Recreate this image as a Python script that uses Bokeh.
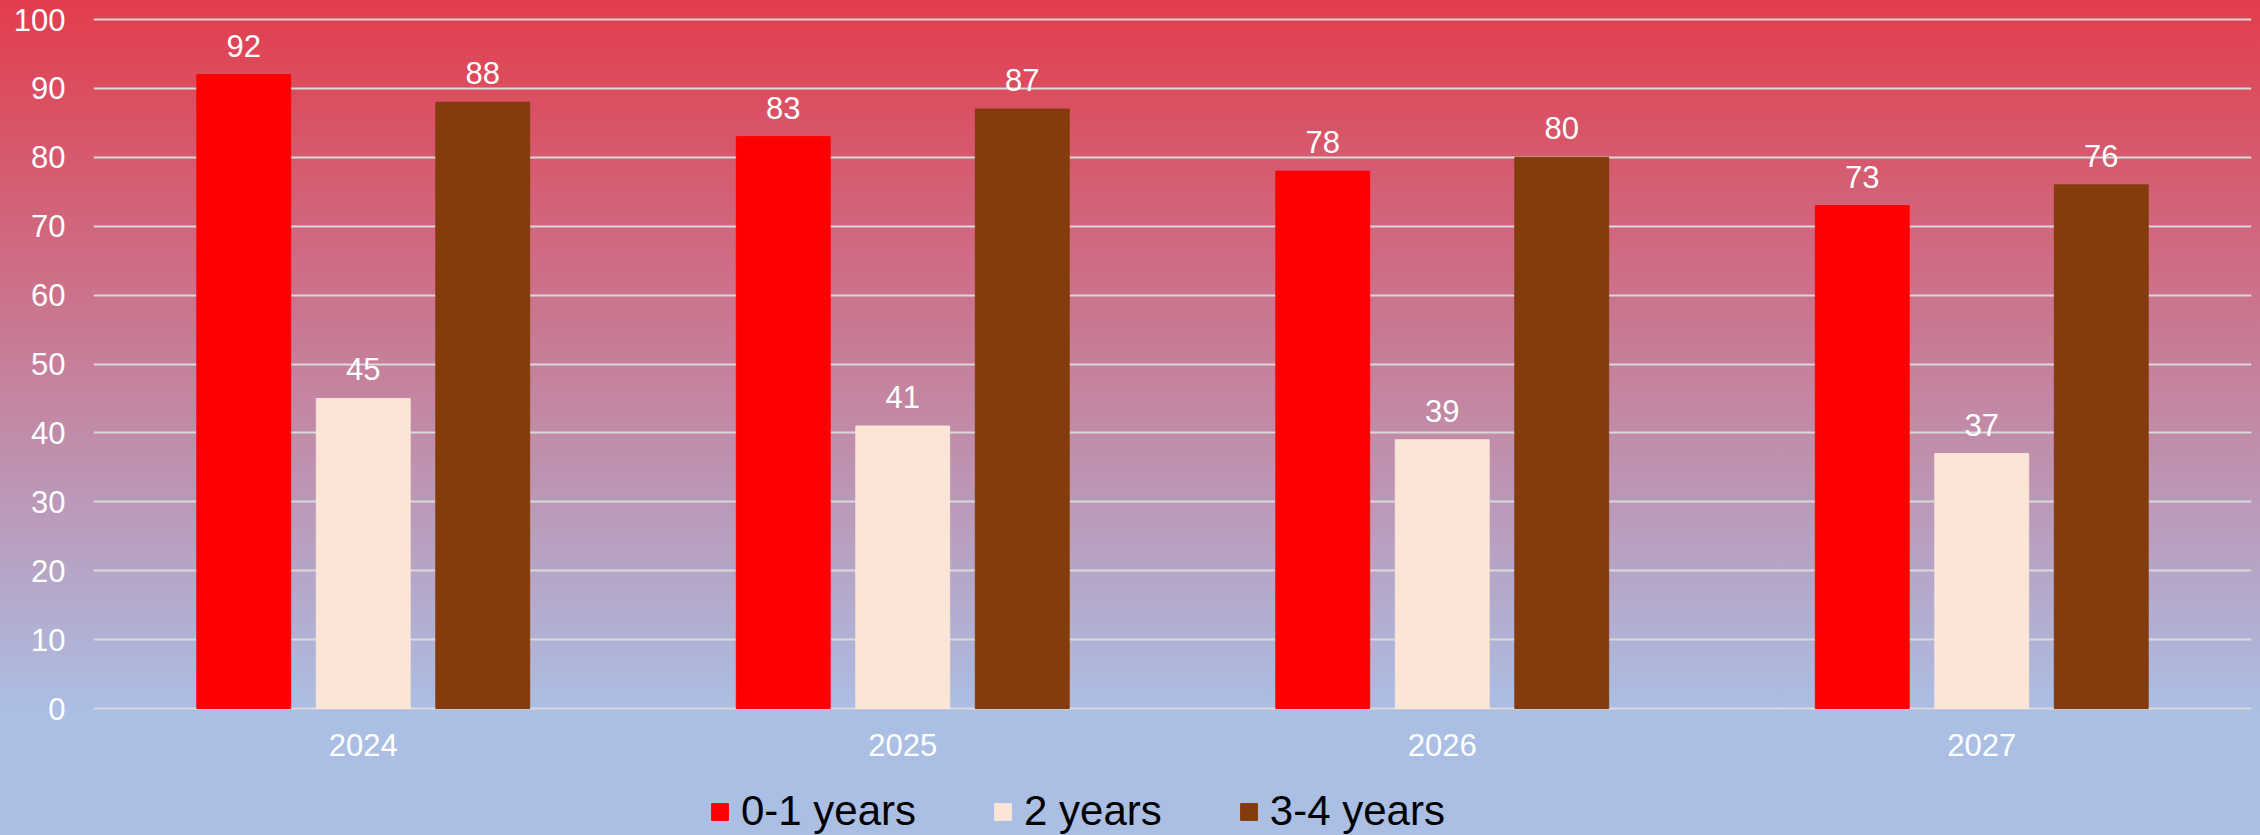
from bokeh.plotting import figure
from bokeh.models import ColumnDataSource, FactorRange, Range1d, LabelSet, Legend, LegendItem, FixedTicker
from bokeh.transform import dodge
from bokeh.core.properties import value
from bokeh.embed import file_html
from bokeh.resources import INLINE

years = ["2024", "2025", "2026", "2027"]
series_names = ["0-1 years", "2 years", "3-4 years"]
v01 = [92, 83, 78, 73]
v2 = [45, 41, 39, 37]
v34 = [88, 87, 80, 76]
colors = ["#FF0000", "#FBE5D6", "#843C0C"]
y_ticks = [0, 10, 20, 30, 40, 50, 60, 70, 80, 90, 100]

FONT = "Liberation Sans"

W, H = 2260, 835
LEFT, RIGHT = 93, 9
TOP_LINE = 19     # px from top of figure to the 100 line
ZERO_Y = 708      # px from top of figure to the 0 line
PAD_TOP = 4       # frame starts a little above the 100 line so it is drawn
px_per_unit = (ZERO_Y - TOP_LINE) / 100.0
y_bottom = -(H - ZERO_Y) / px_per_unit
y_top = 100 + PAD_TOP / px_per_unit

src = ColumnDataSource(dict(
    year=years,
    s0=v01, s1=v2, s2=v34,
    l0=[str(v) for v in v01], l1=[str(v) for v in v2], l2=[str(v) for v in v34],
))

p = figure(
    x_range=FactorRange(*years), y_range=Range1d(y_bottom, y_top),
    width=W, height=H,
    output_backend="svg", toolbar_location=None,
    min_border_left=LEFT, min_border_right=RIGHT, min_border_top=TOP_LINE - PAD_TOP,
    min_border_bottom=0,
)
p.background_fill_alpha = 0
p.border_fill_alpha = 0
p.outline_line_alpha = 0
p.styles = {"background": "linear-gradient(to bottom, #E23D4C 0%, #ABBFE5 85.5%, #ABBFE5 100%)"}

offsets = [-0.2215, 0.0, 0.2215]
keys = ["s0", "s1", "s2"]
lkeys = ["l0", "l1", "l2"]
renderers = []
for off, k, lk, c in zip(offsets, keys, lkeys, colors):
    r = p.vbar(x=dodge("year", off, range=p.x_range), top=k, bottom=0, width=0.174,
               source=src, fill_color=c, line_color=c, line_width=1)
    renderers.append(r)
    labels = LabelSet(x=dodge("year", off, range=p.x_range), y=k, text=lk, source=src,
                      text_align="center", text_baseline="alphabetic", y_offset=18,
                      text_color="white", text_font=value(FONT), text_font_size="31px")
    p.add_layout(labels)

# grid
p.xgrid.grid_line_color = None
p.ygrid.ticker = FixedTicker(ticks=y_ticks)
p.ygrid.grid_line_color = "#D9D9D9"
p.ygrid.grid_line_width = 2

# y axis
p.yaxis.ticker = FixedTicker(ticks=y_ticks)
p.yaxis.axis_line_color = None
p.yaxis.major_tick_line_color = None
p.yaxis.minor_tick_line_color = None
p.yaxis.major_tick_out = 0
p.yaxis.major_tick_in = 0
p.yaxis.major_label_standoff = 28
p.yaxis.major_label_text_color = "white"
p.yaxis.major_label_text_font = FONT
p.yaxis.major_label_text_font_size = "31px"

# x axis, pinned at the zero line
p.xaxis.fixed_location = 0
p.xaxis.axis_line_color = None
p.xaxis.major_tick_line_color = None
p.xaxis.minor_tick_line_color = None
p.xaxis.major_tick_out = 0
p.xaxis.major_tick_in = 0
p.xaxis.major_label_standoff = 25
p.xaxis.major_label_text_color = "white"
p.xaxis.major_label_text_font = FONT
p.xaxis.major_label_text_font_size = "31px"

legend = Legend(
    items=[LegendItem(label=n, renderers=[r]) for n, r in zip(series_names, renderers)],
    orientation="horizontal",
    location=(616, 0),
    glyph_width=21, glyph_height=21,
    label_standoff=11, spacing=76,
    padding=0, margin=0,
    label_text_font=FONT, label_text_font_size="42px", label_text_color="black",
    background_fill_alpha=0, border_line_alpha=0,
)
p.add_layout(legend, "center")

open("out.html", "w").write(file_html(p, INLINE))
